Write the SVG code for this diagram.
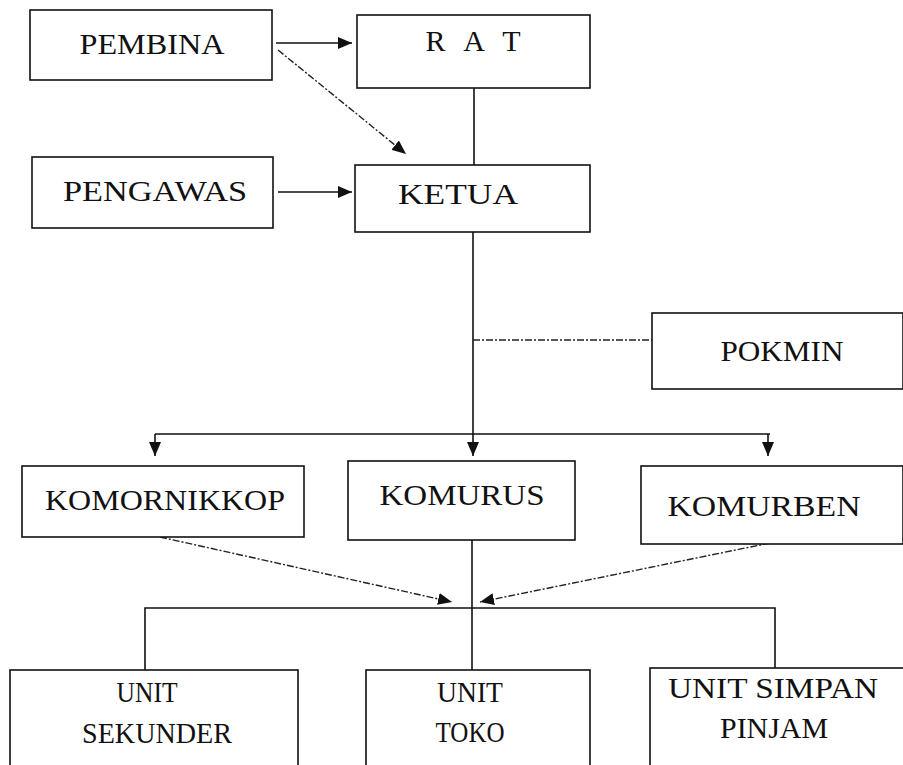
<svg xmlns="http://www.w3.org/2000/svg" width="903" height="765" viewBox="0 0 903 765">
<style>
.box{fill:#fff;stroke:#111;stroke-width:1.6}
.t{font-family:'Liberation Serif','Times New Roman',serif;font-size:30px;fill:#111;text-anchor:middle}
.c{fill:none;stroke:#111;stroke-width:1.6}
.d{fill:none;stroke:#222;stroke-width:1.4;stroke-dasharray:7 2 2 2}
</style>
<defs>
<marker id="ah" viewBox="0 0 14 12" refX="14" refY="6" markerWidth="14" markerHeight="12" markerUnits="userSpaceOnUse" orient="auto">
<path d="M0,0 L14,6 L0,12 Z" fill="#111"/>
</marker>
</defs>
<rect width="903" height="765" fill="#fff"/>
<g id="connectors">
<line class="c" x1="276" y1="43" x2="352" y2="43" marker-end="url(#ah)"/>
<line class="d" x1="278" y1="50" x2="406" y2="154" marker-end="url(#ah)"/>
<line class="c" x1="278" y1="192" x2="352" y2="192" marker-end="url(#ah)"/>
<line class="c" x1="474" y1="88" x2="474" y2="165"/>
<line class="c" x1="473" y1="232" x2="473" y2="456" marker-end="url(#ah)"/>
<line class="d" x1="473" y1="340" x2="652" y2="340"/>
<line class="c" x1="155" y1="434" x2="770" y2="434"/>
<line class="c" x1="155" y1="434" x2="155" y2="456" marker-end="url(#ah)"/>
<line class="c" x1="768" y1="434" x2="768" y2="456" marker-end="url(#ah)"/>
<line class="d" x1="160" y1="537" x2="452" y2="602" marker-end="url(#ah)"/>
<line class="d" x1="770" y1="543" x2="480" y2="602" marker-end="url(#ah)"/>
<line class="c" x1="472" y1="540" x2="472" y2="670"/>
<polyline class="c" points="145,670 145,608 775,608 775,668"/>
</g>
<g id="pembina"><rect class="box" x="30" y="10" width="242" height="70"/><text class="t" x="152" y="54" textLength="145" lengthAdjust="spacingAndGlyphs">PEMBINA</text></g>
<g id="rat"><rect class="box" x="357" y="15" width="233" height="73"/><text class="t" x="473" y="51" textLength="95" lengthAdjust="spacing">R A T</text></g>
<g id="pengawas"><rect class="box" x="32" y="157" width="241" height="71"/><text class="t" x="155" y="201" textLength="184" lengthAdjust="spacingAndGlyphs">PENGAWAS</text></g>
<g id="ketua"><rect class="box" x="355" y="165" width="235" height="67"/><text class="t" x="458" y="204" textLength="120" lengthAdjust="spacingAndGlyphs">KETUA</text></g>
<g id="pokmin"><rect class="box" x="652" y="313" width="251" height="76"/><text class="t" x="782" y="361" textLength="123" lengthAdjust="spacingAndGlyphs">POKMIN</text></g>
<g id="komornikkop"><rect class="box" x="22" y="466" width="282" height="71"/><text class="t" x="165" y="510" textLength="240" lengthAdjust="spacingAndGlyphs">KOMORNIKKOP</text></g>
<g id="komurus"><rect class="box" x="348" y="461" width="227" height="79"/><text class="t" x="462" y="505" textLength="165" lengthAdjust="spacingAndGlyphs">KOMURUS</text></g>
<g id="komurben"><rect class="box" x="641" y="466" width="262" height="78"/><text class="t" x="764" y="516" textLength="193" lengthAdjust="spacingAndGlyphs">KOMURBEN</text></g>
<g id="unit-sekunder"><rect class="box" x="10" y="670" width="288" height="100"/><text class="t" x="147" y="702" textLength="61" lengthAdjust="spacingAndGlyphs">UNIT</text><text class="t" x="157" y="743" textLength="150" lengthAdjust="spacingAndGlyphs">SEKUNDER</text></g>
<g id="unit-toko"><rect class="box" x="366" y="670" width="224" height="100"/><text class="t" x="470" y="702" textLength="66" lengthAdjust="spacingAndGlyphs">UNIT</text><text class="t" x="470" y="742" textLength="69" lengthAdjust="spacingAndGlyphs">TOKO</text></g>
<g id="unit-simpan-pinjam"><rect class="box" x="650" y="668" width="258" height="102"/><text class="t" x="773" y="698" textLength="210" lengthAdjust="spacingAndGlyphs">UNIT SIMPAN</text><text class="t" x="774" y="738" textLength="108" lengthAdjust="spacingAndGlyphs">PINJAM</text></g>
</svg>
